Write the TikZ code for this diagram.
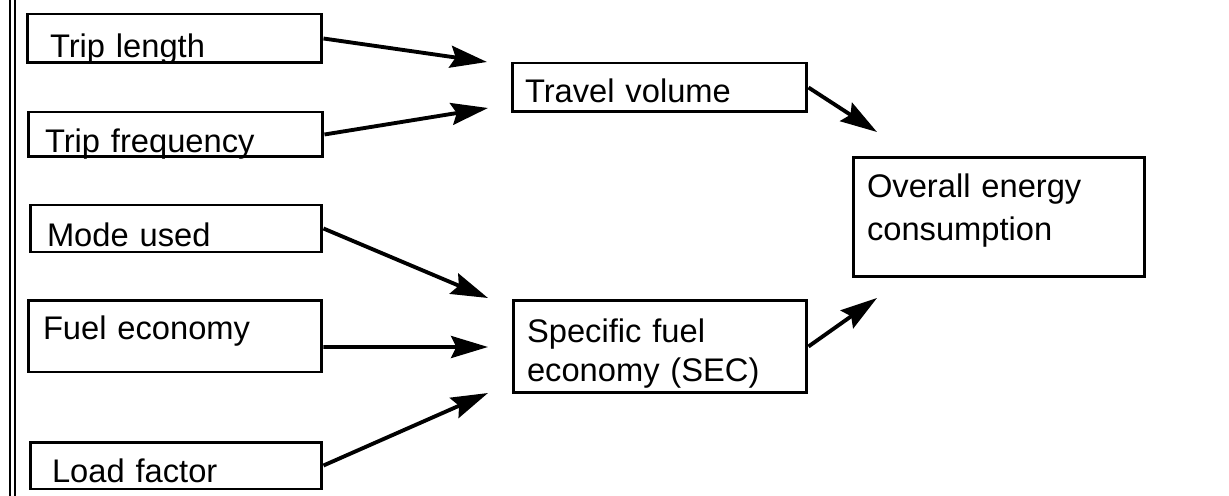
\documentclass[tikz,border=0pt]{standalone}
\usepackage{fontspec}
\setmainfont{Liberation Sans}
\usepackage{tikz}
\usetikzlibrary{positioning,arrows.meta}

\begin{document}
\begin{tikzpicture}[x=0.02cm, y=-0.02cm,
        box/.style={draw, line width=1.7pt, inner ysep=0pt, align=left,
            font=\fontsize{18.6}{22.5}\selectfont},
        flow/.style={line width=2.2pt, -{Stealth[length=21pt, width=12.5pt, inset=3pt]}}]
        \useasboundingbox (0,0) rectangle (1229,496);

        % margin rule on the left
        \draw[line width=1.1pt] (10,0) -- (10,496);
        \draw[line width=1.1pt] (15,0) -- (15,496);

        % factors
        \node[box, inner xsep=0.46cm, text width=4.98cm, text height=0.88cm, text depth=0.10cm] (len) at (174.5,38.5) {Trip length};
        \node[box, inner xsep=0.34cm, text width=5.22cm, text height=0.82cm, text depth=0.08cm] (freq) at (175.5,134.5) {Trip frequency};
        \node[box, inner xsep=0.34cm, text width=5.16cm, text height=0.84cm, text depth=0.10cm] (mode) at (176,228.5) {Mode used};
        \node[box, inner xsep=0.30cm, text width=5.28cm, text height=0.80cm, text depth=0.64cm] (fuel) at (175,336) {Fuel economy};
        \node[box, inner xsep=0.44cm, text width=4.96cm, text height=0.80cm, text depth=0.14cm] (load) at (176,465.5) {Load factor};

        % intermediate results
        \node[box, inner xsep=0.26cm, text width=5.38cm, text height=0.80cm, text depth=0.18cm] (vol) at (659.5,87.5) {Travel volume};
        \node[box, inner xsep=0.28cm, text width=5.32cm, text height=0.84cm, text depth=1.02cm] (sec) at (660,346.5) {Specific fuel\\economy (SEC)};

        % total
        \node[box, inner xsep=0.28cm, text width=5.28cm, text height=0.80cm, text depth=1.60cm,
            font=\fontsize{18.6}{24.5}\selectfont] (all) at (999,217) {Overall energy\\consumption};

        % arrow tips
        \coordinate (lenTip) at (487,62);
        \coordinate (freqTip) at (488,108);
        \coordinate (modeTip) at (488,298);
        \coordinate (fuelTip) at (488,347);
        \coordinate (loadTip) at (488,393);
        \coordinate (volTip) at (877,132);
        \coordinate (secTip) at (877,298);

        \draw[flow] (len.east) -- (lenTip);
        \draw[flow] (freq.east) -- (freqTip);
        \draw[flow] (mode.east) -- (modeTip);
        \draw[flow] ([yshift=-0.22cm]fuel.east) -- (fuelTip);
        \draw[flow] (load.east) -- (loadTip);
        \draw[flow] (vol.east) -- (volTip);
        \draw[flow] (sec.east) -- (secTip);
    \end{tikzpicture}
\end{document}
